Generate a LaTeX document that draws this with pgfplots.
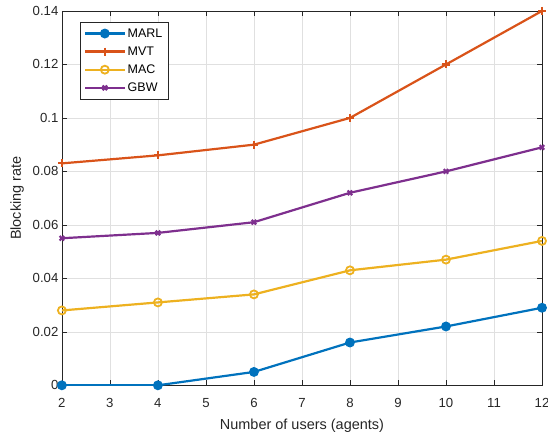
\documentclass[border=0pt]{standalone}
\usepackage{pgfplots}
\pgfplotsset{compat=1.18}
\usepackage{fontspec}
\setmainfont{Liberation Sans}
\definecolor{c1}{rgb}{0,0.447,0.741}
\definecolor{c2}{rgb}{0.85,0.325,0.098}
\definecolor{c3}{rgb}{0.929,0.694,0.125}
\definecolor{c4}{rgb}{0.494,0.184,0.556}
\definecolor{axc}{rgb}{0.15,0.15,0.15}
\begin{document}
\begin{tikzpicture}
\begin{axis}[
  scale only axis,
  width=481bp, height=375bp,
  xmin=2, xmax=12, ymin=0, ymax=0.14,
  xtick={2,3,...,12},
  ytick={0,0.02,...,0.14},
  yticklabel style={/pgf/number format/fixed,/pgf/number format/precision=2},
  xticklabel shift=10bp,
  scaled y ticks=false,
  /pgf/number format/assume math mode=true,
  tick label style={font=\fontsize{13.2bp}{15bp}\selectfont, color=axc},
  label style={font=\fontsize{14.5bp}{17bp}\selectfont, color=axc},
  xlabel={Number of users (agents)},
  ylabel={Blocking rate},
  xlabel style={yshift=-4bp},
  ylabel style={yshift=2bp},
  grid=major,
  major grid style={color=black!12, line width=0.6pt},
  axis line style={color=axc, line width=0.6pt},
  tick style={color=axc, line width=0.6pt},
  tick align=inside,
  major tick length=5bp,
  legend style={at={(0.037,0.97)}, anchor=north west, font=\fontsize{12.5bp}{14bp}\selectfont, draw=axc, line width=0.6pt, row sep=4bp, inner xsep=4bp, inner ysep=4bp},
  legend cell align=left,
  legend image code/.code={\draw[line width=2.2bp, mark repeat=2,mark phase=2] plot coordinates {(0cm,0cm) (0.7cm,0cm) (1.4cm,0cm)};},
]
\addplot[color=c1, line width=2.2bp, mark=*, mark size=3.8bp] coordinates {(2,0) (4,0) (6,0.005) (8,0.016) (10,0.022) (12,0.029)};
\addlegendentry{MARL}
\addplot[color=c2, line width=2.2bp, mark=+, mark size=4bp, mark options={line width=2.2bp}] coordinates {(2,0.083) (4,0.086) (6,0.090) (8,0.100) (10,0.120) (12,0.140)};
\addlegendentry{MVT}
\addplot[color=c3, line width=2.2bp, mark=o, mark size=4bp, mark options={line width=1.8bp}] coordinates {(2,0.028) (4,0.031) (6,0.034) (8,0.043) (10,0.047) (12,0.054)};
\addlegendentry{MAC}
\addplot[color=c4, line width=2.2bp, mark=x, mark size=3.2bp, mark options={line width=2.2bp}] coordinates {(2,0.055) (4,0.057) (6,0.061) (8,0.072) (10,0.080) (12,0.089)};
\addlegendentry{GBW}
\end{axis}
\pgfresetboundingbox
\path[use as bounding box] ([xshift=-62bp,yshift=-50bp]current axis.south west) rectangle ([xshift=6bp,yshift=11bp]current axis.north east);
\end{tikzpicture}
\end{document}
